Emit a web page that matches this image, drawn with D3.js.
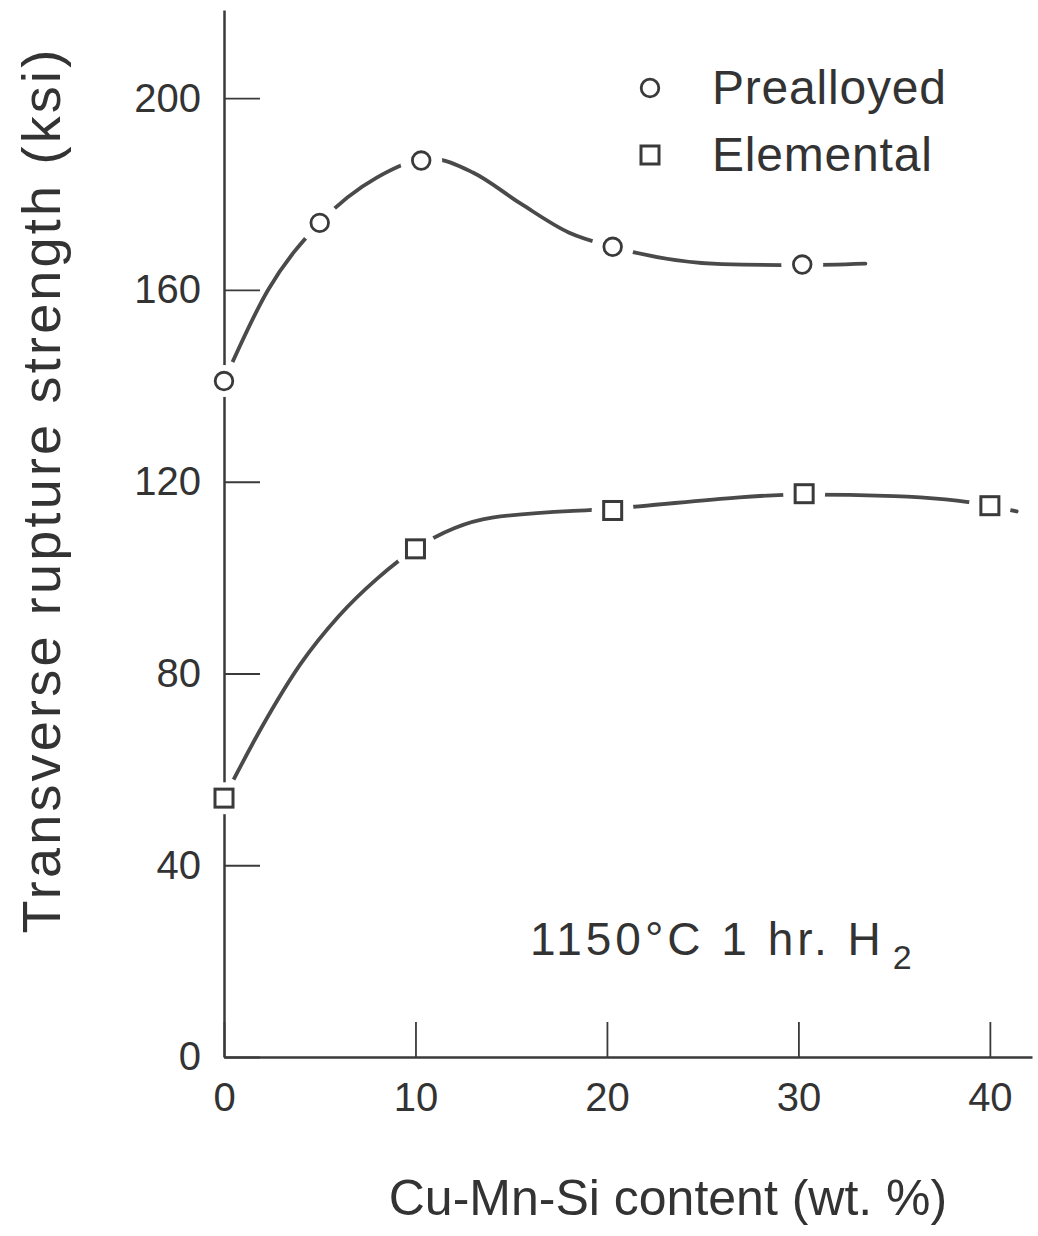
<!DOCTYPE html>
<html>
<head>
<meta charset="utf-8">
<script src="https://cdn.jsdelivr.net/npm/d3@7"></script>
<style>
  body { margin: 0; background: #fff; }
  text { font-family: "Liberation Sans", Arial, sans-serif; fill: #333; }
</style>
</head>
<body>
<div id="chart"></div>
<script>
const xTicks = [0, 10, 20, 30, 40];
const yTicks = [0, 40, 80, 120, 160, 200];

// measured points
const prealloyedX = [0, 5, 10.3, 20.3, 30.2];
const prealloyedY = [141, 174, 187, 169, 165.3];
const elementalX = [0, 10, 20.3, 30.3, 40];
const elementalY = [54, 106, 114, 117.5, 115];

// hand-drawn fit curves
const prealloyedCurveX = [0, 2.3, 5, 8, 10.8, 13, 15.5, 18, 20.3, 26, 30.2, 33.5];
const prealloyedCurveY = [141, 160, 174, 183.5, 187.4, 184.5, 178, 172, 169, 165.4, 165.2, 165.5];
const elementalCurveX = [0, 2, 4, 6, 8, 10, 14, 20.3, 30.3, 35, 40, 41.4];
const elementalCurveY = [54, 69, 82, 92, 99.8, 106, 112.5, 114.4, 117.3, 117, 115, 113.8];

const width = 1038, height = 1236;
const svg = d3.select("#chart").append("svg")
  .attr("width", width)
  .attr("height", height);

const x = d3.scaleLinear().domain([0, 42.2]).range([224, 1032]);
const y = d3.scaleLinear().domain([0, 218.4]).range([1057, 10]);

const ink = "#3a3a3a";

// axes
const yAxis = svg.append("g")
  .attr("transform", `translate(${x(0)},0)`)
  .call(d3.axisLeft(y).tickValues(yTicks).tickSize(-36).tickSizeOuter(0).tickPadding(23));
const xAxis = svg.append("g")
  .attr("transform", `translate(0,${y(0)})`)
  .call(d3.axisBottom(x).tickValues(xTicks).tickSize(-35).tickSizeOuter(0).tickPadding(26));

[yAxis, xAxis].forEach(g => {
  g.select(".domain").attr("stroke", ink).attr("stroke-width", 2.5);
  g.selectAll(".tick line").attr("stroke", ink).attr("stroke-width", 1.8);
  g.selectAll(".tick text")
    .style("font-size", "40px")
    .style("font-family", "'Liberation Sans', Arial, sans-serif")
    .attr("fill", "#333");
});

// mask to break curves around markers
const allPts = prealloyedX.map((d, i) => [d, prealloyedY[i]])
  .concat(elementalX.map((d, i) => [d, elementalY[i]]));

const mask = svg.append("defs").append("mask").attr("id", "gaps");
mask.append("rect").attr("width", width).attr("height", height).attr("fill", "white");
mask.selectAll("circle")
  .data(allPts)
  .enter()
  .append("circle")
  .attr("cx", d => x(d[0]))
  .attr("cy", d => y(d[1]))
  .attr("r", 21)
  .attr("fill", "black");

const line = d3.line()
  .x(d => x(d[0]))
  .y(d => y(d[1]))
  .curve(d3.curveMonotoneX);

const curves = svg.append("g").attr("mask", "url(#gaps)");
curves.append("path")
  .datum(prealloyedCurveX.map((d, i) => [d, prealloyedCurveY[i]]))
  .attr("d", line)
  .attr("fill", "none")
  .attr("stroke", "#4a4a4a")
  .attr("stroke-width", 3.8)
  .attr("stroke-linecap", "round");
curves.append("path")
  .datum(elementalCurveX.map((d, i) => [d, elementalCurveY[i]]))
  .attr("d", line)
  .attr("fill", "none")
  .attr("stroke", "#4a4a4a")
  .attr("stroke-width", 3.8)
  .attr("stroke-linecap", "round");

// white halo so the y axis breaks at the markers too
svg.append("g").selectAll("circle")
  .data(allPts)
  .enter()
  .append("circle")
  .attr("cx", d => x(d[0]))
  .attr("cy", d => y(d[1]))
  .attr("r", 16)
  .attr("fill", "#fff");

function circleMark(g, cx, cy) {
  g.append("circle")
    .attr("cx", cx)
    .attr("cy", cy)
    .attr("r", 8.8)
    .attr("fill", "#fff")
    .attr("stroke", ink)
    .attr("stroke-width", 2.8);
}
function squareMark(g, cx, cy) {
  g.append("rect")
    .attr("x", cx - 9)
    .attr("y", cy - 9)
    .attr("width", 18)
    .attr("height", 18)
    .attr("fill", "#fff")
    .attr("stroke", ink)
    .attr("stroke-width", 3);
}

const marks = svg.append("g");
prealloyedX.forEach((d, i) => circleMark(marks, x(d), y(prealloyedY[i])));
elementalX.forEach((d, i) => squareMark(marks, x(d), y(elementalY[i])));

// legend
circleMark(svg, 650, 88);
squareMark(svg, 650, 155);
svg.append("text")
  .attr("x", 712)
  .attr("y", 104)
  .style("font-size", "48px")
  .style("letter-spacing", "0.8px")
  .text("Prealloyed");
svg.append("text")
  .attr("x", 712)
  .attr("y", 171)
  .style("font-size", "48px")
  .style("letter-spacing", "0.8px")
  .text("Elemental");

// annotation
const note = svg.append("text")
  .attr("x", 530)
  .attr("y", 955)
  .style("font-size", "46px")
  .style("letter-spacing", "4px");
note.append("tspan").text("1150\u00b0C 1 hr. H");
note.append("tspan")
  .attr("dx", 8)
  .attr("dy", 14)
  .style("font-size", "34px")
  .text("2");

// axis titles
svg.append("text")
  .attr("x", 668)
  .attr("y", 1215)
  .attr("text-anchor", "middle")
  .style("font-size", "50px")
  .text("Cu-Mn-Si content (wt. %)");

svg.append("text")
  .attr("transform", `translate(60,${490}) rotate(-90)`)
  .attr("text-anchor", "middle")
  .style("font-size", "54px")
  .style("letter-spacing", "3.2px")
  .text("Transverse rupture strength (ksi)");
</script>
</body>
</html>
